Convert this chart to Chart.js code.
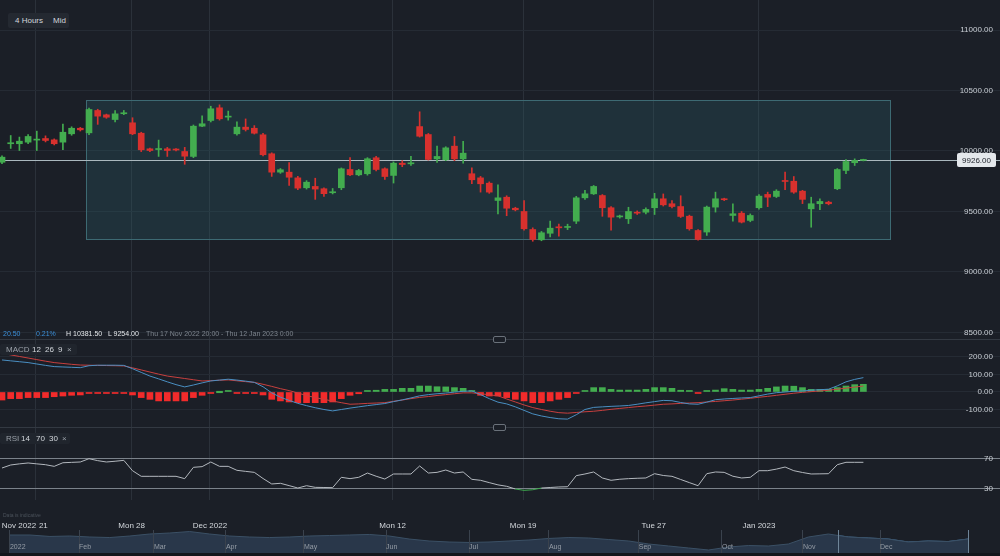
<!DOCTYPE html>
<html>
<head>
<meta charset="utf-8">
<script src="https://cdn.jsdelivr.net/npm/chart.js@4.4.1/dist/chart.umd.min.js"></script>
<style>
  html, body { margin: 0; padding: 0; background: #1b1f27; }
  #wrap { position: relative; width: 1000px; height: 556px; overflow: hidden; background: #1b1f27;
          font-family: "Liberation Sans", Arial, sans-serif; }
  canvas { position: absolute; left: 0; }
  .txt { position: absolute; white-space: nowrap; font-size: 8px; line-height: 10px; color: #d3d7dc; }
  .sm  { font-size: 7px; line-height: 9px; }
  .box { position: absolute; background: #242931; border-radius: 2px; }
  .rule { position: absolute; left: 0; width: 1000px; height: 1px; background: #333942; }
  .handle { position: absolute; width: 11px; height: 5px; border: 1px solid #6a717a; border-radius: 2px; background: #1b1f27; }
</style>
</head>
<body>
<div id="wrap">
  <canvas id="priceChart" width="1000" height="339" style="top:0"></canvas>
  <canvas id="macdChart"  width="1000" height="87"  style="top:340px"></canvas>
  <canvas id="rsiChart"   width="1000" height="102" style="top:428px"></canvas>
  <canvas id="navChart"   width="1000" height="23"  style="top:530px"></canvas>

  <div class="rule" style="top:339px"></div>
  <div class="rule" style="top:427px"></div>
  <div class="handle" style="left:493px;top:336px"></div>
  <div class="handle" style="left:493px;top:424px"></div>
  <div style="position:absolute;left:0;top:553px;width:1000px;height:3px;background:#13161c"></div>

  <div class="box" style="left:8px;top:13px;width:61px;height:15px"></div>
  <span class="txt" style="left:15px;top:16px">4 Hours</span>
  <span class="txt" style="left:53px;top:16px">Mid</span>

  <span class="txt sm" style="left:3px;top:329px;color:#3b8fd8">20.50</span>
  <span class="txt sm" style="left:36px;top:329px;color:#3b8fd8">0.21%</span>
  <span class="txt sm" style="left:66px;top:329px;color:#e4e7ea">H 10381.50</span>
  <span class="txt sm" style="left:108px;top:329px;color:#e4e7ea">L 9254.00</span>
  <span class="txt sm" style="left:146px;top:329px;color:#7d848d">Thu 17 Nov 2022 20:00 - Thu 12 Jan 2023 0:00</span>

  <div class="box" style="left:0;top:344px;width:77px;height:11px;background:#20252d"></div>
  <span class="txt" style="left:6px;top:345px;color:#9aa0a8">MACD</span>
  <span class="txt" style="left:32px;top:345px">12</span>
  <span class="txt" style="left:45px;top:345px">26</span>
  <span class="txt" style="left:58px;top:345px">9</span>
  <span class="txt" style="left:67px;top:345px;color:#9aa0a8">×</span>

  <div class="box" style="left:0;top:433px;width:70px;height:11px;background:#20252d"></div>
  <span class="txt" style="left:6px;top:434px;color:#9aa0a8">RSI</span>
  <span class="txt" style="left:21px;top:434px">14</span>
  <span class="txt" style="left:36px;top:434px">70</span>
  <span class="txt" style="left:49px;top:434px">30</span>
  <span class="txt" style="left:62px;top:434px;color:#9aa0a8">×</span>

  <span class="txt" style="left:3px;top:512px;font-size:5px;line-height:6px;color:#4b525b">Data is indicative</span>
</div>

<script>
// ── Data ─────────────────────────────────────────────────────────────

const opens  = [9907,10060,10060,10073,10090,10103,10092,10073,10142,10188,10150,10335,10299,10260,10308,10233,10147,10018,10012,10018,
                10012,9996,9955,10205,10252,10357,10280,10142,10197,10188,10134,9977,9825,9825,9778,9696,9707,9688,9655,9696,
                9847,9803,9812,9944,9853,9798,9899,9894,10202,10136,9935,9927,10040,9935,9812,9778,9734,9591,9618,9527,
                9500,9351,9266,9320,9373,9368,9420,9613,9646,9632,9531,9455,9440,9494,9494,9531,9605,9564,9541,9461,
                9343,9330,9536,9605,9467,9486,9426,9531,9641,9624,9756,9750,9668,9522,9564,9577,9688,9839,9903,9922];
const highs  = [9960,10128,10115,10135,10164,10125,10100,10223,10200,10195,10355,10345,10305,10335,10335,10275,10155,10025,10090,10030,
                10020,10030,10215,10290,10370,10381.5,10330,10240,10265,10210,10145,9985,9855,9905,9790,9755,9775,9695,9690,9860,
                9945,9848,9945,9955,9860,9910,9920,9955,10324,10145,10040,10035,10120,10080,9860,9790,9745,9720,9630,9535,
                9590,9365,9335,9420,9395,9395,9625,9675,9715,9640,9540,9470,9535,9505,9530,9650,9645,9590,9630,9470,
                9350,9545,9660,9610,9564,9500,9480,9640,9660,9680,9825,9789,9675,9618,9605,9585,9855,9930,9935,9932];
const lows   = [9895,10021,10004,10060,10004,10075,10050,10010,10130,10165,10135,10220,10270,10240,10300,10135,9995,9995,9955,9955,
                10000,9890,9945,10200,10240,10255,10255,10130,10165,10140,9960,9790,9815,9715,9680,9685,9600,9625,9645,9680,
                9795,9795,9800,9835,9765,9735,9870,9880,10115,9925,9905,9920,9920,9900,9730,9660,9650,9480,9465,9505,
                9345,9254,9258,9290,9296,9350,9400,9600,9640,9460,9345,9445,9400,9475,9480,9475,9545,9530,9450,9345,
                9262,9302,9495,9590,9420,9405,9415,9520,9540,9615,9680,9650,9565,9370,9515,9555,9680,9812,9880,9918];
const closes = [9949,10066,10081,10120,10096,10087,10060,10155,10188,10175,10343,10288,10279,10307,10316,10142,10010,10004,10018,10004,
                10008,9957,10205,10225,10349,10266,10285,10197,10178,10147,9969,9825,9845,9783,9693,9742,9685,9647,9663,9853,
                9803,9839,9936,9847,9789,9899,9888,9902,10122,9930,9955,10026,9935,9982,9762,9729,9660,9613,9527,9514,
                9357,9269,9324,9362,9365,9373,9613,9646,9707,9531,9453,9461,9500,9486,9517,9605,9555,9541,9459,9357,
                9269,9536,9605,9597,9481,9412,9467,9627,9618,9668,9748,9660,9600,9564,9583,9564,9847,9913,9922,9926];

const macdLine   = [183,178,173,168,160,152,145,143,141,139,150,153,153,153,152,133,112,91,75,58,
                    42,29,40,52,63,68,73,68,62,55,30,-5,-30,-48,-65,-78,-90,-100,-108,-100,
                    -92,-85,-78,-72,-66,-55,-45,-34,-22,-15,-10,-6,-1,4,6,-15,-38,-58,-68,-85,
                    -105,-125,-137,-146,-153,-155,-130,-100,-88,-85,-82,-80,-77,-70,-62,-55,-48,-50,-60,-68,
                    -70,-58,-44,-40,-37,-34,-32,-22,-12,-4,0,4,6,10,13,16,35,58,72,82];
const signalLine = [221,212,203,194,185,176,168,163,158,154,153,152,151,150,149,138,126,114,102,91,
                    84,77,70,63,65,67,69,64,59,55,44,32,19,8,-6,-20,-32,-42,-52,-61,
                    -70,-68,-65,-63,-61,-53,-46,-38,-31,-26,-20,-15,-10,-5,-5,-10,-16,-22,-40,-57,
                    -74,-89,-100,-110,-118,-121,-117,-113,-110,-105,-99,-94,-89,-84,-80,-75,-70,-68,-65,-63,
                    -61,-57,-54,-50,-46,-41,-36,-30,-25,-19,-13,-7,-2,2,6,10,16,22,28,34];
const macdHist   = [-46,-38,-38,-32,-32,-32,-27,-23,-19,-17,-4,-2,-2,-2,-2,-17,-32,-42,-51,-51,
                    -51,-51,-32,-19,-2,0,1,-1,-2,-6,-17,-42,-51,-57,-61,-61,-61,-61,-57,-38,
                    -19,-10,2,10,15,15,21,21,34,34,30,29,25,21,6,-19,-23,-23,-32,-42,
                    -51,-61,-61,-51,-42,-32,-8,2,25,25,15,11,11,11,15,25,25,21,10,2,
                    -4,2,11,19,15,11,11,15,21,29,34,33,25,15,15,15,25,34,42,44];
const rsiValues  = [58,62,63.5,64.7,63.5,62.4,60.2,65,65.5,66,70.4,67.8,66,67,68.2,54.4,46.9,46.9,46.9,46.9,
                    46.9,43.8,58.9,59.8,66,60.2,60.2,54.9,53.5,52.2,44,36.7,37.6,34.5,31.3,34.4,32.2,32,31.8,45.6,
                    43.8,45.6,51.3,47,43.3,50,50,50,60.7,51.3,52.2,55.3,51.3,52.7,42.9,41.6,38.5,35.5,33.6,30,
                    28.2,29,31.3,32,32.7,33,47.8,50,52.7,44.7,41.6,43,43.8,44.3,44.7,50.4,48,46.9,42.7,38.5,
                    34.4,50.4,52.7,52.2,47,44.7,45.6,54.4,54.4,56.5,59.3,54.4,52,50,50.2,50.4,62.4,65.6,65.6,65.6];

const priceTicks = [8500, 9000, 9500, 10000, 10500, 11000];
const macdTicks  = [-100, 0, 100, 200];
const rsiTicks   = [30, 70];

// day boundaries (candle index) and the labels of the time row
const dayTicks   = [3.9, 14.9, 23.9, 44.9, 59.9, 74.9, 87.0];
const timeTicks  = [1.95, 4.75, 14.9, 23.9, 44.9, 59.9, 74.9, 87.0];
const timeLabels = ['Nov 2022', '21', 'Mon 28', 'Dec 2022', 'Mon 12', 'Mon 19', 'Tue 27', 'Jan 2023'];

// consolidation range drawn as a box
const rangeFrom = 9.66, rangeTo = 102.07, rangeHigh = 10420, rangeLow = 9268;

// navigator (whole year overview)
const navValues = [10100,10100,9990,10025,9950,9910,10025,10175,10250,10360,10175,10025,9950,9910,9950,10025,10060,10100,10140,10025,
                   9800,9650,9575,9540,9575,9650,9725,9840,9910,9875,9760,9650,9425,9275,9125,8975,9200,9310,9275,9425,
                   9950,10175,9950,9875,9800,9575,9650,9610,9800];
const navMonthTicks  = [0, 3.46, 7.21, 10.82, 14.73, 18.84, 23.0, 27.0, 31.5, 35.67, 39.73, 43.59];
const navMonthLabels = ['2022', 'Feb', 'Mar', 'Apr', 'May', 'Jun', 'Jul', 'Aug', 'Sep', 'Oct', 'Nov', 'Dec'];
const navSelFrom = 41.5, navSelTo = 48, navSelStartValue = 10060;

// ── Styling ──────────────────────────────────────────────────────────

const GREEN   = '#43ad4f';
const RED     = '#d8312e';
const HRED    = '#f22b2b';
const GRID_H  = '#252b34';
const GRID_V  = '#2b313a';
const LABEL   = '#c9ced4';
const X_MIN   = -0.23;
const X_MAX   = 114.7;

Chart.defaults.font.family = '"Liberation Sans", Arial, sans-serif';
Chart.defaults.font.size   = 8;
Chart.defaults.animation   = false;
Chart.defaults.plugins.legend.display  = false;
Chart.defaults.plugins.tooltip.enabled = false;

const noPad = s => { s.paddingLeft = s.paddingRight = s.paddingTop = s.paddingBottom = 0; };

function timeAxis() {
    return {
        type: 'linear', min: X_MIN, max: X_MAX, offset: false,
        grid: { color: GRID_V, drawTicks: false, offset: false },
        border: { display: false },
        ticks: { display: false },
        afterBuildTicks: s => { s.ticks = dayTicks.map(v => ({ value: v })); },
        afterFit: s => { s.height = 0; noPad(s); },
    };
}

function valueAxis(min, max, ticks, fmt, gridColor) {
    return {
        type: 'linear', position: 'right', min, max,
        grid: { color: gridColor, drawTicks: false },
        border: { display: false },
        ticks: { mirror: true, padding: -7, color: LABEL, callback: fmt },
        afterBuildTicks: s => { s.ticks = ticks.map(v => ({ value: v })); },
        afterFit: s => { s.width = 0; noPad(s); },
    };
}

const xy = arr => arr.map((v, i) => ({ x: i, y: v }));

// ── Price panel ──────────────────────────────────────────────────────

const candleColors = opens.map((o, i) => closes[i] >= o ? GREEN : RED);
const lastClose = closes[closes.length - 1];

const rangeBox = {
    id: 'rangeBox',
    beforeDatasetsDraw(chart) {
        const { ctx, scales: { x, y }, chartArea } = chart;
        const l = x.getPixelForValue(rangeFrom), r = x.getPixelForValue(rangeTo);
        const t = y.getPixelForValue(rangeHigh), b = y.getPixelForValue(rangeLow);
        ctx.save();
        ctx.fillStyle = 'rgba(42, 96, 108, 0.28)';
        ctx.fillRect(l, t, r - l, b - t);
        ctx.strokeStyle = '#3d6a73';
        ctx.lineWidth = 1;
        ctx.strokeRect(Math.round(l) + 0.5, Math.round(t) + 0.5, Math.round(r - l), Math.round(b - t));
        // current price line
        const py = Math.round(y.getPixelForValue(lastClose)) + 0.5;
        ctx.strokeStyle = '#aab8be';
        ctx.beginPath(); ctx.moveTo(chartArea.left, py); ctx.lineTo(chartArea.right, py); ctx.stroke();
        ctx.restore();
    },
    afterDraw(chart) {
        const { ctx, scales: { y }, chartArea } = chart;
        const py = y.getPixelForValue(lastClose);
        const w = 39, h = 14, l = chartArea.right - 43;
        ctx.save();
        ctx.fillStyle = '#e4e8ec';
        ctx.beginPath();
        ctx.roundRect(l, py - h / 2, w, h, 2);
        ctx.fill();
        ctx.fillStyle = '#1b1f27';
        ctx.font = '8px "Liberation Sans", Arial, sans-serif';
        ctx.textAlign = 'center';
        ctx.textBaseline = 'middle';
        ctx.fillText(lastClose.toFixed(2), l + w / 2, py + 0.5);
        ctx.restore();
    },
};

new Chart(document.getElementById('priceChart'), {
    type: 'bar',
    data: {
        datasets: [
            { data: opens.map((o, i) => ({ x: i, y: [lows[i], highs[i]] })), backgroundColor: candleColors, barThickness: 1, grouped: false },
            { data: opens.map((o, i) => ({ x: i, y: [o, closes[i]] })), backgroundColor: candleColors, barThickness: 6, grouped: false, minBarLength: 1 },
        ],
    },
    options: {
        responsive: false,
        scales: { x: timeAxis(), y: valueAxis(8446, 11248, priceTicks, v => v.toFixed(2), GRID_H) },
    },
    plugins: [rangeBox],
});

// ── MACD panel ───────────────────────────────────────────────────────

new Chart(document.getElementById('macdChart'), {
    type: 'bar',
    data: {
        datasets: [
            { type: 'line', data: xy(macdLine),   borderColor: '#4a8fc2', borderWidth: 1, pointRadius: 0, order: 0 },
            { type: 'line', data: xy(signalLine), borderColor: '#c8403f', borderWidth: 1, pointRadius: 0, order: 1 },
            { data: xy(macdHist), backgroundColor: macdHist.map(v => v >= 0 ? GREEN : HRED), barThickness: 6, minBarLength: 1.5, order: 2 },
        ],
    },
    options: {
        responsive: false,
        scales: { x: timeAxis(), y: valueAxis(-200, 297, macdTicks, v => v.toFixed(2), GRID_H) },
    },
});

// ── RSI panel + time labels ──────────────────────────────────────────

const RSI_COLOR = '#b3b8be';

new Chart(document.getElementById('rsiChart'), {
    type: 'line',
    data: {
        datasets: [{
            data: xy(rsiValues), borderColor: RSI_COLOR, borderWidth: 1, pointRadius: 0,
            segment: { borderColor: c => (c.p0.parsed.y < 30 || c.p1.parsed.y < 30) ? '#3da94d' : RSI_COLOR },
        }],
    },
    options: {
        responsive: false,
        scales: {
            x: timeAxis(),
            xl: {
                type: 'linear', position: 'bottom', min: X_MIN, max: X_MAX, offset: false,
                grid: { display: false, drawTicks: false }, border: { display: false },
                ticks: { padding: 21, color: '#d4d8dd', maxRotation: 0, autoSkip: false, callback: (v, i) => timeLabels[i] },
                afterBuildTicks: s => { s.ticks = timeTicks.map(v => ({ value: v })); },
                afterFit: s => { s.height = 30; noPad(s); },
            },
            y: valueAxis(15.33, 111.33, rsiTicks, v => String(v), '#7b828a'),
        },
    },
});

// ── Navigator ────────────────────────────────────────────────────────

const navSelection = {
    id: 'navSelection',
    afterDatasetsDraw(chart) {
        const { ctx, chartArea, scales: { x } } = chart;
        ctx.save();
        ctx.strokeStyle = '#6f8599';
        ctx.lineWidth = 1;
        [navSelFrom, navSelTo].forEach(v => {
            const px = Math.round(x.getPixelForValue(v)) + 0.5;
            ctx.beginPath(); ctx.moveTo(px, chartArea.top); ctx.lineTo(px, chartArea.bottom); ctx.stroke();
        });
        ctx.restore();
    },
};

const navSelData = [{ x: navSelFrom, y: navSelStartValue }]
    .concat(navValues.map((v, i) => ({ x: i, y: v })).filter(p => p.x > navSelFrom && p.x <= navSelTo));

new Chart(document.getElementById('navChart'), {
    type: 'line',
    data: {
        datasets: [
            { data: xy(navValues), fill: 'start', backgroundColor: '#29374a', borderColor: '#3b5065', borderWidth: 1, pointRadius: 0 },
            { data: navSelData,    fill: 'start', backgroundColor: '#2b4e72', borderColor: '#4677a3', borderWidth: 1, pointRadius: 0 },
        ],
    },
    options: {
        responsive: false,
        scales: {
            x: {
                type: 'linear', min: -0.5, max: 49.6, offset: false,
                grid: { color: '#3a424d', drawTicks: false, z: 1 }, border: { display: false },
                ticks: { mirror: true, align: 'start', padding: 2, z: 2, color: '#959ca5', font: { size: 7 },
                         maxRotation: 0, autoSkip: false, callback: (v, i) => navMonthLabels[i] },
                afterBuildTicks: s => { s.ticks = navMonthTicks.map(v => ({ value: v })); },
                afterFit: s => { s.height = 0; noPad(s); },
            },
            y: { display: false, min: 8750, max: 10475 },
        },
    },
    plugins: [navSelection],
});
</script>
</body>
</html>
